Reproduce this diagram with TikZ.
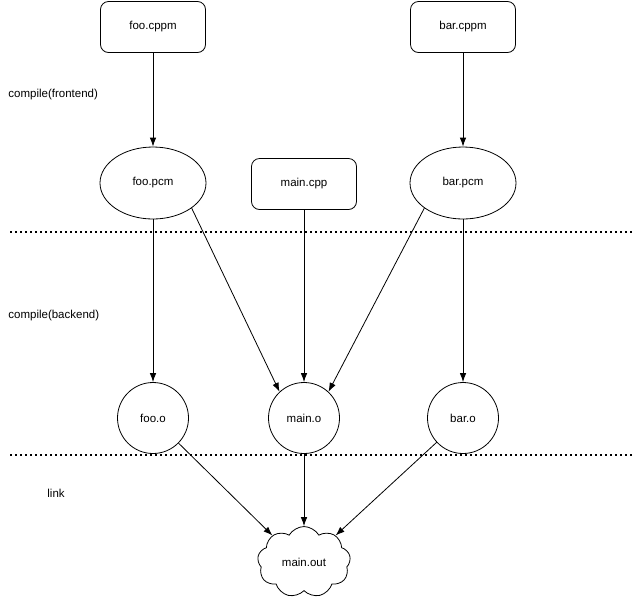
\documentclass[tikz,border=0pt]{standalone}
\usepackage{fontspec}
\setmainfont{Liberation Sans}
\usetikzlibrary{
  shapes.geometric,%
  % cloud for the linked program
  shapes.symbols,%
  arrows.meta,
  positioning
}
\tikzset{>={Latex[length=9pt,width=6.5pt]}}
\tikzset{font=\fontsize{11.5}{14}\selectfont}
\tikzset{srcfile/.style={draw, rounded corners=8pt, minimum width=105pt,
    minimum height=51pt, inner sep=0pt}}
\tikzset{pcmfile/.style={draw, ellipse, minimum width=106pt,
    minimum height=72pt, inner sep=0pt}}
\tikzset{objfile/.style={draw, circle, minimum size=71pt, inner sep=0pt}}
\tikzset{exefile/.style={draw, cloud, cloud puffs=9, cloud puff arc=120,
    minimum width=93pt, minimum height=60pt, inner sep=0pt}}
\tikzset{phase/.style={anchor=west, inner sep=0pt}}
\tikzset{stageline/.style={line width=1.6pt, dash pattern=on 1.6pt off 3.4pt}}

\begin{document}
\begin{tikzpicture}[x=1pt, y=-1pt, line width=0.8pt]
  \useasboundingbox (0,0) rectangle (636,598);
  % phases
  \node[phase] (frontend) at (8,95) {compile(frontend)};
  \node[phase] (backend) at (8,316) {compile(backend)};
  \node[phase] (link) at (47,493) {link};
  \coordinate (sepAl) at (10,232);
  \coordinate (sepAr) at (632,232);
  \coordinate (sepBl) at (10,455);
  \coordinate (sepBr) at (632,455);
  \draw[stageline] (sepAl) -- (sepAr);
  \draw[stageline] (sepBl) -- (sepBr);
  % files
  \node[srcfile] (foocppm) at (153,27) {foo.cppm};
  \node[srcfile] (barcppm) at (463,27) {bar.cppm};
  \node[pcmfile] (foopcm) at (153,183) {foo.pcm};
  \node[srcfile] (maincpp) at (304,184) {main.cpp};
  \node[pcmfile] (barpcm) at (463,183) {bar.pcm};
  \node[objfile] (fooo) at (153,418) {foo.o};
  \node[objfile] (maino) at (304,418) {main.o};
  \node[objfile] (baro) at (463,418) {bar.o};
  \node[exefile] (mainout) at (304,562) {main.out};
  % build steps
  \draw[->] (foocppm) -- (foopcm);
  \draw[->] (barcppm) -- (barpcm);
  \draw[->] (foopcm) -- (fooo);
  \draw[->] (foopcm.-33) -- (maino.133);
  \draw[->] (maincpp) -- (maino);
  \draw[->] (barpcm.-147) -- (maino.47);
  \draw[->] (barpcm) -- (baro);
  \draw[->] (fooo) -- (mainout.140);
  \draw[->] (maino) -- (mainout);
  \draw[->] (baro) -- (mainout.40);
\end{tikzpicture}
\end{document}
